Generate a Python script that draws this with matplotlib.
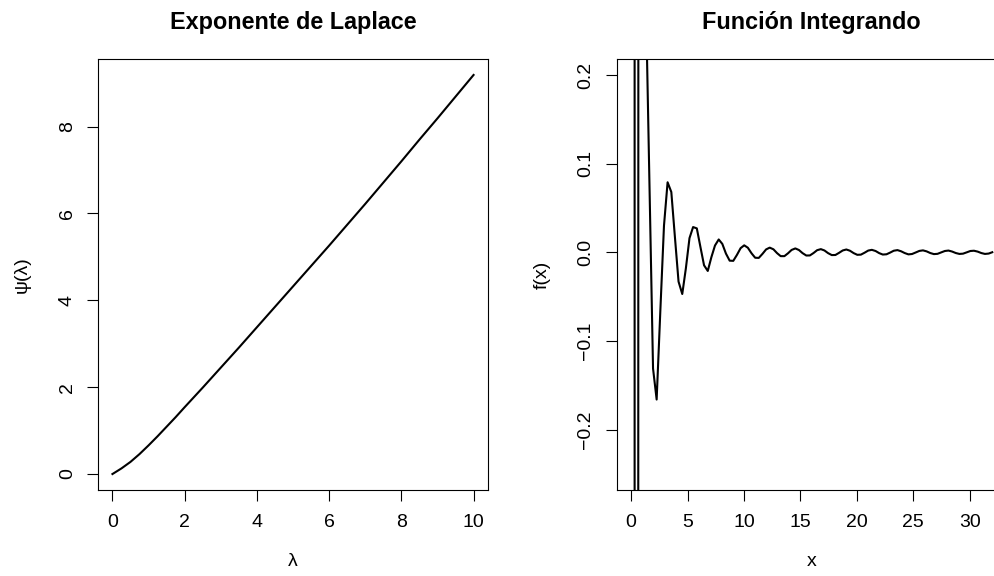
import matplotlib
matplotlib.use("Agg")
import matplotlib.pyplot as plt

plt.rcParams['font.family'] = ['Liberation Sans', 'DejaVu Sans']

# ---- Left panel data: Laplace exponent psi(lambda)
lam = [0.0, 0.25, 0.5, 0.75, 1.0, 1.25, 1.5, 1.75, 2.0, 2.5, 3.0, 3.5, 4.0, 4.5, 5.0,
       5.5, 6.0, 6.5, 7.0, 7.5, 8.0, 8.5, 9.0, 9.5, 10.0]
psi = [0.0, 0.13, 0.28, 0.46, 0.66, 0.87, 1.09, 1.31, 1.54, 1.99, 2.45, 2.91, 3.38, 3.85, 4.32,
       4.79, 5.26, 5.74, 6.22, 6.71, 7.2, 7.7, 8.19, 8.69, 9.19]
left_xticks = [0, 2, 4, 6, 8, 10]
left_yticks = [0, 2, 4, 6, 8]

# ---- Right panel data: integrand f(x)
xs = [0.00, 0.32, 0.65, 0.97, 1.29, 1.62, 1.94, 2.26, 2.59, 2.91,
      3.23, 3.56, 3.88, 4.20, 4.53, 4.85, 5.17, 5.49, 5.82, 6.14,
      6.46, 6.79, 7.11, 7.43, 7.76, 8.08, 8.40, 8.73, 9.05, 9.37,
      9.70, 10.02, 10.34, 10.67, 10.99, 11.31, 11.64, 11.96, 12.28, 12.61,
      12.93, 13.25, 13.58, 13.90, 14.22, 14.55, 14.87, 15.19, 15.52, 15.84,
      16.16, 16.48, 16.81, 17.13, 17.45, 17.78, 18.10, 18.42, 18.75, 19.07,
      19.39, 19.72, 20.04, 20.36, 20.69, 21.01, 21.33, 21.66, 21.98, 22.30,
      22.63, 22.95, 23.27, 23.60, 23.92, 24.24, 24.57, 24.89, 25.21, 25.54,
      25.86, 26.18, 26.51, 26.83, 27.15, 27.47, 27.80, 28.12, 28.44, 28.77,
      29.09, 29.41, 29.74, 30.06, 30.38, 30.71, 31.03, 31.35, 31.68, 32.00]
fx = [500.0, -20.0, 1.0, 0.6, 0.296, 0.079, -0.131, -0.166, -0.065, 0.030,
      0.079, 0.068, 0.017, -0.033, -0.047, -0.018, 0.016, 0.0285, 0.027, 0.006,
      -0.0146, -0.021, -0.0055, 0.0077, 0.0145, 0.0095, -0.0014, -0.0094, -0.0096, -0.0030,
      0.0047, 0.0079, 0.0052, -0.0011, -0.0061, -0.0063, -0.0017, 0.0033, 0.0053, 0.0034,
      -0.0009, -0.0043, -0.0043, -0.0011, 0.0027, 0.0044, 0.0026, -0.0009, -0.0036, -0.0035,
      -0.0008, 0.0024, 0.0036, 0.0021, -0.0009, -0.0031, -0.0030, -0.0006, 0.0021, 0.0032,
      0.0018, -0.0009, -0.0028, -0.0026, -0.0004, 0.0020, 0.0028, 0.0015, -0.0009, -0.0025,
      -0.0022, -0.0003, 0.0018, 0.0025, 0.0012, -0.0008, -0.0023, -0.0019, -0.0002, 0.0016,
      0.0022, 0.0011, -0.0008, -0.0020, -0.0017, -0.0001, 0.0015, 0.0020, 0.0009, -0.0008,
      -0.0018, -0.0015, 0.0000, 0.0015, 0.0018, 0.0008, -0.0008, -0.0018, -0.0014, 0.0001]
right_xticks = [0, 5, 10, 15, 20, 25, 30]
right_yticks = [-0.2, -0.1, 0.0, 0.1, 0.2]
right_yticklabels = ["\u22120.2", "\u22120.1", "0.0", "0.1", "0.2"]
right_ylim = (-0.25, 0.2)

W, H = 995, 576
fig = plt.figure(figsize=(W / 100, H / 100), dpi=100)


def r_lim(lo, hi):
    d = (hi - lo) * 0.04
    return lo - d, hi + d


def style(ax):
    for s in ax.spines.values():
        s.set_linewidth(0.8)
        s.set_color('black')
    ax.tick_params(axis='both', direction='out', length=8, width=0.8,
                   labelsize=14, colors='black')
    ax.tick_params(axis='x', pad=9)
    ax.tick_params(axis='y', pad=8)
    for lab in ax.get_yticklabels():
        lab.set_rotation(90)
        lab.set_va('center')


# Left panel
ax1 = fig.add_axes([98 / W, 1 - 490 / H, 390 / W, 431 / H])
ax1.plot(lam, psi, color='black', lw=1.5)
ax1.set_xlim(*r_lim(min(lam), max(lam)))
ax1.set_ylim(*r_lim(min(psi), max(psi)))
ax1.set_xticks(left_xticks)
ax1.set_yticks(left_yticks)
ax1.set_xticklabels([str(v) for v in left_xticks])
ax1.set_yticklabels([str(v) for v in left_yticks])
style(ax1)
ax1.set_xlabel("\u03bb", fontsize=14, labelpad=16)
ax1.set_ylabel("\u03c8(\u03bb)", fontsize=14, labelpad=20)
fig.text(293 / W, 1 - 22 / H, "Exponente de Laplace", fontsize=16.8,
         fontweight='bold', ha='center', va='center')

# Right panel
ax2 = fig.add_axes([616.7 / W, 1 - 490 / H, 390 / W, 431 / H])
ax2.plot(xs, fx, color='black', lw=1.5)
ax2.set_xlim(*r_lim(min(xs), max(xs)))
ax2.set_ylim(*r_lim(*right_ylim))
ax2.set_xticks(right_xticks)
ax2.set_xticklabels([str(v) for v in right_xticks])
ax2.set_yticks(right_yticks)
ax2.set_yticklabels(right_yticklabels)
style(ax2)
ax2.set_xlabel("x", fontsize=14, labelpad=16)
ax2.set_ylabel("f(x)", fontsize=14, labelpad=19)
fig.text((616.7 + 195) / W, 1 - 22 / H, "Funci\u00f3n Integrando", fontsize=16.8,
         fontweight='bold', ha='center', va='center')

fig.savefig("out.png", dpi=100)
